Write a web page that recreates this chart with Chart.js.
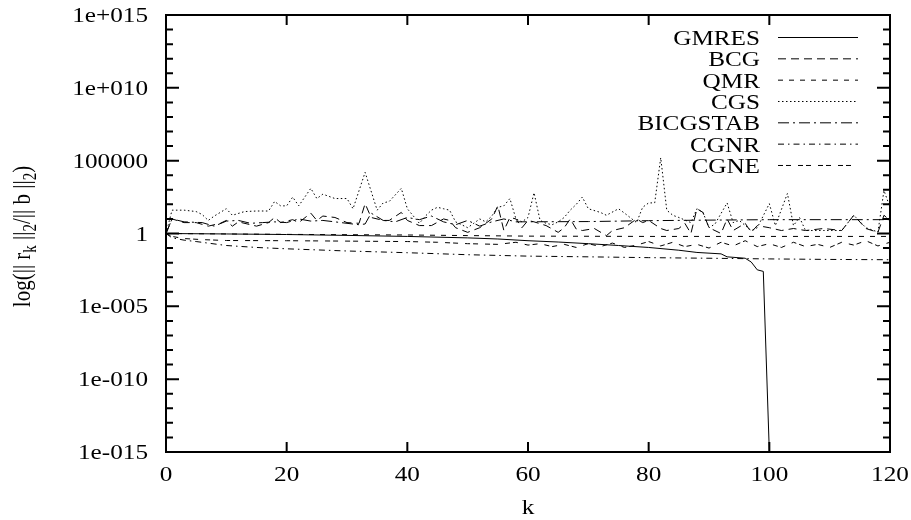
<!DOCTYPE html>
<html>
<head>
<meta charset="utf-8">
<title>Residual history</title>
<script src="https://cdn.jsdelivr.net/npm/chart.js@4.4.1/dist/chart.umd.min.js"></script>
<style>
  html, body { margin: 0; padding: 0; background: #fff; }
</style>
</head>
<body>
<canvas id="residualChart" width="911" height="520"></canvas>
<script>
// relative residual ||r_k|| / ||b|| per iteration k, one pair of arrays per solver
const gmresK = [0, 10, 20, 30, 40, 50, 55, 60, 65, 70, 75, 80, 85, 88, 92, 93, 96, 97, 98, 99, 100];
const gmresRes = [1, 0.93, 0.85, 0.74, 0.63, 0.5, 0.42, 0.32, 0.26, 0.2, 0.15, 0.11, 0.071, 0.05, 0.04, 0.025, 0.02, 0.011, 0.0032, 0.0025, 1e-15];

const bcgK = [0, 1, 3, 5, 7, 9, 10, 11, 12, 15, 17, 18, 19, 21, 22, 24, 25, 26, 28, 30, 32, 33, 34, 36, 37, 39, 40,
  42, 44, 46, 47, 48, 50, 52, 54, 55, 56, 57, 58, 59, 60, 61, 63, 65, 66, 67, 68, 69, 71, 73, 74, 76, 78, 79, 80,
  82, 83, 85, 86, 87, 88, 89, 90, 92, 93, 94, 96, 97, 98, 100, 102, 104, 106, 109, 112, 114, 116, 118, 119, 120];
const bcgRes = [1, 10, 5.6, 5.6, 3.2, 5.0, 7.9, 3.2, 6.3, 3.2, 5.6, 12.6, 5.6, 8.9, 5.6, 25, 7.9, 15.8, 12.6, 5.6, 5.0, 112, 12.6, 7.9, 7.9, 28, 7.9,
  3.5, 3.5, 10, 7.9, 2.5, 1.2, 2.5, 10, 79, 1.6, 12.6, 10, 2.5, 7.9, 6.3, 3.5, 1.2, 2.5, 10, 2.0, 1.6, 2.2, 0.71, 1.6, 2.5, 10, 5.6, 7.9,
  2.2, 1.6, 2.2, 5.0, 1.0, 50, 28, 2.5, 1.0, 10, 1.6, 5.0, 1.2, 3.5, 2.5, 1.6, 2.2, 1.6, 2.2, 1.6, 17.8, 2.2, 1.2, 17.8, 7.9];

const qmrK = [0, 10, 20, 30, 40, 50, 60, 80, 100, 120];
const qmrRes = [1, 0.93, 0.87, 0.83, 0.79, 0.72, 0.66, 0.63, 0.63, 0.63];

const cgsK = [0, 1, 3, 5, 6, 7, 8, 10, 11, 13, 15, 17, 18, 19, 20, 21, 22, 24, 25, 26, 28, 30, 31, 33, 35, 36, 37, 39, 40,
  41, 42, 43, 44, 45, 46, 47, 48, 49, 50, 51, 52, 53, 54, 55, 56, 57, 58, 59, 60, 61, 62, 63, 64, 65, 66, 67, 68, 69, 70,
  72, 73, 75, 76, 78, 79, 80, 81, 82, 83, 84, 85, 87, 88, 89, 90, 91, 93, 94, 95, 97, 98, 100, 101, 103, 104, 105, 106,
  109, 112, 114, 116, 118, 119, 120];
const cgsRes = [1, 40, 40, 32, 20, 7.9, 15.8, 50, 17.8, 32, 35, 35, 158, 79, 79, 316, 79, 1259, 251, 501, 251, 251, 50, 15849, 40, 126, 158, 1259, 50,
  15.8, 5.0, 15.8, 40, 63, 50, 40, 6.3, 4.0, 2.5, 5.0, 10, 6.3, 15.8, 63, 79, 251, 10, 6.3, 12.6, 631, 7.9, 5.0, 4.0, 6.3, 12.6, 40, 100, 316, 50,
  28, 17.8, 50, 25, 5.6, 63, 126, 126, 158489, 40, 17.8, 12.6, 5.6, 50, 28, 2.5, 4.5, 126, 5.6, 7.9, 1.6, 2.5, 112, 3.5, 562, 3.5, 12.6, 1.6,
  1.6, 1.6, 17.8, 2.5, 1.26, 891, 63];

const bicgstabK = [0, 1, 3, 6, 8, 10, 12, 14, 16, 18, 20, 22, 24, 26, 28, 30, 32, 33, 34, 36, 38, 40, 42, 44, 46, 48, 50, 52, 54, 56, 58,
  70, 80, 90, 100, 110, 120];
const bicgstabRes = [1, 10, 6.3, 5.6, 3.2, 7.1, 7.9, 5.0, 5.6, 6.3, 5.6, 10, 7.1, 7.9, 6.3, 5.0, 4.0, 4.5, 25, 7.9, 6.3, 12.6, 8.9, 15.8, 6.3, 4.0, 7.9, 3.2, 6.3, 10, 6.3,
  6.6, 7.6, 8.3, 8.9, 8.9, 8.9];

const cgnrK = [0, 1, 3, 5, 10, 15, 20, 30, 40, 50, 60, 70, 80, 90, 100, 110, 120];
const cgnrRes = [1, 0.5, 0.35, 0.28, 0.15, 0.11, 0.089, 0.063, 0.048, 0.035, 0.028, 0.025, 0.022, 0.02, 0.018, 0.0166, 0.0158];

const cgneK = [0, 1, 3, 6, 10, 20, 30, 40, 45, 50, 55, 58, 60, 62, 64, 66, 68, 70, 72, 74, 76, 78, 80, 82, 84, 86, 88, 90,
  92, 94, 96, 98, 100, 102, 104, 106, 108, 110, 112, 114, 116, 118, 120];
const cgneRes = [1, 0.63, 0.45, 0.38, 0.33, 0.32, 0.3, 0.28, 0.25, 0.2, 0.18, 0.25, 0.16, 0.2, 0.126, 0.18, 0.11, 0.2, 0.126, 0.22, 0.11, 0.16, 0.28, 0.14, 0.25, 0.126, 0.18, 0.1,
  0.25, 0.14, 0.32, 0.126, 0.2, 0.11, 0.25, 0.126, 0.18, 0.11, 0.25, 0.16, 0.32, 0.14, 0.25];

// axis ticks
const xTicks = [0, 20, 40, 60, 80, 100, 120];
const yTicks = [1e-15, 1e-10, 1e-5, 1, 1e5, 1e10, 1e15];
const yTickLabels = ['1e-015', '1e-010', '1e-005', '1', '100000', '1e+010', '1e+015'];

const series = [
  { label: 'GMRES', k: gmresK, r: gmresRes, dash: [] },
  { label: 'BCG', k: bcgK, r: bcgRes, dash: [8, 5] },
  { label: 'QMR', k: qmrK, r: qmrRes, dash: [5, 6] },
  { label: 'CGS', k: cgsK, r: cgsRes, dash: [1.5, 2.5] },
  { label: 'BICGSTAB', k: bicgstabK, r: bicgstabRes, dash: [11, 4, 2, 4] },
  { label: 'CGNR', k: cgnrK, r: cgnrRes, dash: [6, 4, 1.5, 4] },
  { label: 'CGNE', k: cgneK, r: cgneRes, dash: [5, 3, 5, 7] }
];

const FONT = '21px "Liberation Serif", "DejaVu Serif", serif';
const SUB_FONT = '15px "Liberation Serif", "DejaVu Serif", serif';
const STRETCH = 1.2;

function wideText(ctx, text, x, y, align) {
  ctx.save();
  ctx.translate(x, y);
  ctx.scale(STRETCH, 1);
  ctx.textAlign = align;
  ctx.textBaseline = 'alphabetic';
  ctx.fillText(text, 0, 0);
  ctx.restore();
}

// box, inward ticks on all four sides, labels and key
const gnuplotFrame = {
  id: 'gnuplotFrame',
  afterDraw(chart) {
    const { ctx, chartArea: a, scales: { x, y } } = chart;
    ctx.save();
    ctx.strokeStyle = '#000';
    ctx.fillStyle = '#000';
    ctx.lineWidth = 2;
    ctx.setLineDash([]);
    ctx.strokeRect(a.left, a.top, a.right - a.left, a.bottom - a.top);

    ctx.beginPath();
    xTicks.forEach(v => {
      const px = x.getPixelForValue(v);
      ctx.moveTo(px, a.bottom); ctx.lineTo(px, a.bottom - 10);
      ctx.moveTo(px, a.top); ctx.lineTo(px, a.top + 10);
    });
    for (let e = -15; e <= 15; e++) {
      const py = y.getPixelForValue(Number('1e' + e));
      const len = e % 5 === 0 ? 13 : 7;
      ctx.moveTo(a.left, py); ctx.lineTo(a.left + len, py);
      ctx.moveTo(a.right, py); ctx.lineTo(a.right - len, py);
    }
    ctx.stroke();

    ctx.font = FONT;
    xTicks.forEach(v => wideText(ctx, String(v), x.getPixelForValue(v), a.bottom + 29, 'center'));
    yTicks.forEach((v, i) => wideText(ctx, yTickLabels[i], a.left - 18, y.getPixelForValue(v) + 7, 'right'));
    wideText(ctx, 'k', (a.left + a.right) / 2, 514, 'center');

    // key
    chart.data.datasets.forEach((ds, i) => {
      const base = 45 + i * 21.33;
      ctx.font = FONT;
      wideText(ctx, ds.label, 760, base, 'right');
      ctx.lineWidth = 1;
      ctx.setLineDash(ds.borderDash);
      ctx.beginPath();
      ctx.moveTo(778, base - 7.5);
      ctx.lineTo(858, base - 7.5);
      ctx.stroke();
      ctx.setLineDash([]);
    });

    // y title with subscripts, rotated
    const parts = [['log(|| r', false], ['k', true], [' ||', false], ['2', true], ['/|| b ||', false], ['2', true], [')', false]];
    ctx.translate(29.5, (a.top + a.bottom) / 2 + 3);
    ctx.rotate(-Math.PI / 2);
    ctx.scale(1, STRETCH);
    ctx.textAlign = 'left';
    ctx.textBaseline = 'alphabetic';
    let total = 0;
    parts.forEach(([t, sub]) => { ctx.font = sub ? SUB_FONT : FONT; total += ctx.measureText(t).width; });
    let cx = -total / 2;
    parts.forEach(([t, sub]) => {
      ctx.font = sub ? SUB_FONT : FONT;
      ctx.fillText(t, cx, sub ? 5 : 0);
      cx += ctx.measureText(t).width;
    });
    ctx.restore();
  }
};

new Chart(document.getElementById('residualChart'), {
  type: 'line',
  data: {
    datasets: series.map(s => ({
      label: s.label,
      data: s.k.map((k, i) => ({ x: k, y: s.r[i] })),
      borderColor: '#000',
      borderWidth: 1,
      borderDash: s.dash,
      pointRadius: 0,
      fill: false,
      tension: 0
    }))
  },
  options: {
    responsive: false,
    animation: false,
    devicePixelRatio: 1,
    layout: { padding: { top: 15, right: 21, left: 0, bottom: 0 } },
    plugins: { legend: { display: false }, tooltip: { enabled: false } },
    scales: {
      x: {
        type: 'linear', min: 0, max: 120,
        grid: { display: false, drawTicks: false },
        border: { display: false },
        ticks: { display: false },
        afterFit(scale) { scale.height = 68; }
      },
      y: {
        type: 'logarithmic', min: 1e-15, max: 1e15,
        grid: { display: false, drawTicks: false },
        border: { display: false },
        ticks: { display: false },
        afterBuildTicks(scale) { scale.ticks = yTicks.map(v => ({ value: v })); },
        afterFit(scale) { scale.width = 166; }
      }
    }
  },
  plugins: [gnuplotFrame]
});
</script>
</body>
</html>
